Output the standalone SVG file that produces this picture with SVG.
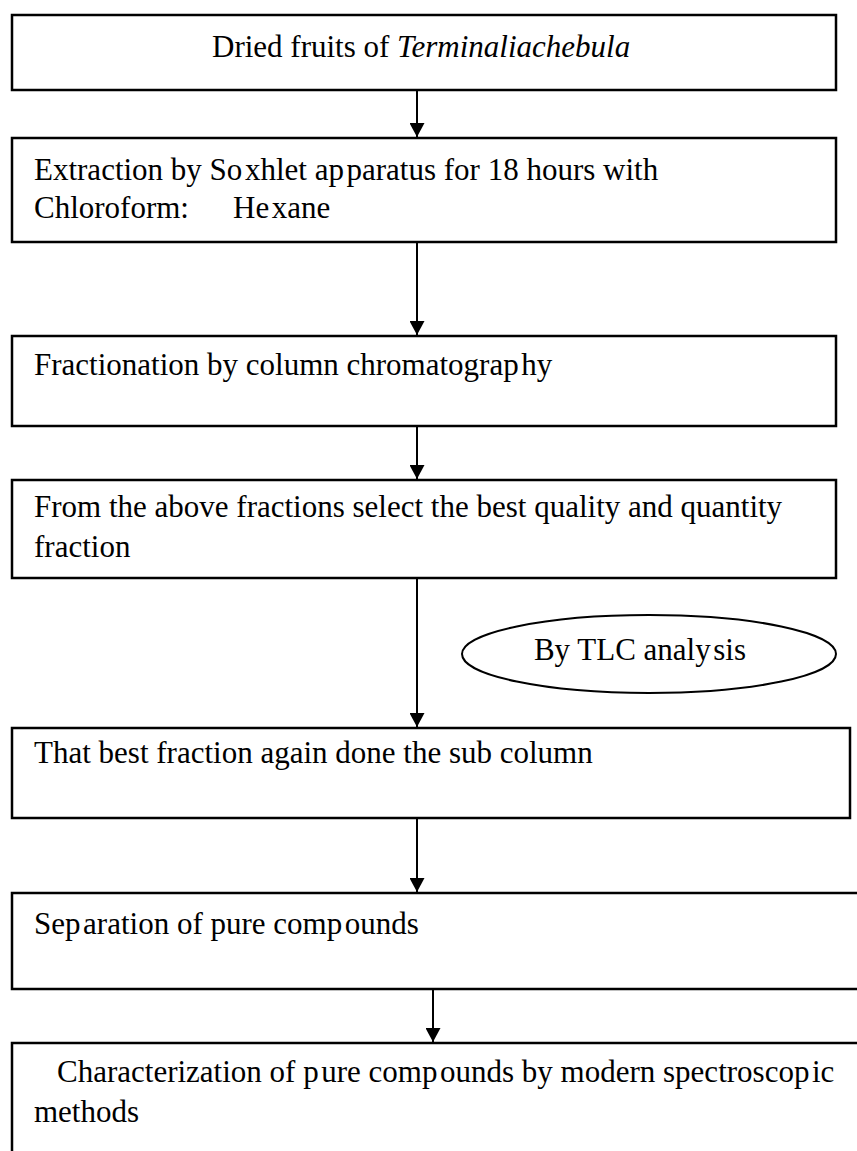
<svg xmlns="http://www.w3.org/2000/svg" width="857" height="1151" viewBox="0 0 857 1151">
<style>
.box{fill:#fff;stroke:#000;stroke-width:2.5}
.t{font-family:"Liberation Serif","Times New Roman",serif;font-size:31px;fill:#000}
.it{font-style:italic}
.conn{stroke:#000;stroke-width:2;fill:none}
</style>
<defs>
<marker id="ah" markerUnits="userSpaceOnUse" markerWidth="15" markerHeight="15" refX="14" refY="7.5" orient="auto">
<path d="M0,0 L14,7.5 L0,15 Z" fill="#000"/>
</marker>
</defs>
<rect width="857" height="1151" fill="#fff"/>
<g id="connectors">
<line class="conn" x1="417" y1="90" x2="417" y2="137" marker-end="url(#ah)"/>
<line class="conn" x1="417" y1="242" x2="417" y2="335" marker-end="url(#ah)"/>
<line class="conn" x1="417" y1="426" x2="417" y2="479" marker-end="url(#ah)"/>
<line class="conn" x1="417" y1="578" x2="417" y2="727" marker-end="url(#ah)"/>
<line class="conn" x1="417" y1="818" x2="417" y2="892" marker-end="url(#ah)"/>
<line class="conn" x1="433" y1="989" x2="433" y2="1042" marker-end="url(#ah)"/>
</g>
<g id="n1">
<rect class="box" x="12" y="15" width="824" height="75"/>
<text class="t" x="212" y="57">Dried fruits of <tspan class="it">Terminaliachebula</tspan></text>
</g>
<g id="n2">
<rect class="box" x="12" y="138" width="824" height="104"/>
<text class="t" x="34" y="180">Extraction by So&#x200A;xhlet ap&#x200A;paratus for 18 hours with</text>
<text class="t" x="34" y="218">Chloroform:</text>
<text class="t" x="233" y="218">He&#x200A;xane</text>
</g>
<g id="n3">
<rect class="box" x="12" y="336" width="824" height="90"/>
<text class="t" x="34" y="375">Fractionation by column chromatograp&#x200A;hy</text>
</g>
<g id="n4">
<rect class="box" x="12" y="480" width="824" height="98"/>
<text class="t" x="34" y="517">From the above fractions select the best quality and quantity</text>
<text class="t" x="34" y="557">fraction</text>
</g>
<g id="tlc">
<ellipse cx="649" cy="654" rx="187" ry="39" fill="#fff" stroke="#000" stroke-width="2"/>
<text class="t" x="640" y="660" text-anchor="middle">By TLC analy&#x200A;sis</text>
</g>
<g id="n5">
<rect class="box" x="12" y="728" width="838" height="90"/>
<text class="t" x="34" y="763">That best fraction again done the sub column</text>
</g>
<g id="n6">
<rect class="box" x="12" y="893" width="870" height="96"/>
<text class="t" x="34" y="934">Sep&#x200A;aration of pure comp&#x200A;ounds</text>
</g>
<g id="n7">
<rect class="box" x="12" y="1043" width="870" height="130"/>
<text class="t" x="57" y="1082">Characterization of p&#x200A;ure comp&#x200A;ounds by modern spectroscop&#x200A;ic</text>
<text class="t" x="34" y="1122">methods</text>
</g>
</svg>
